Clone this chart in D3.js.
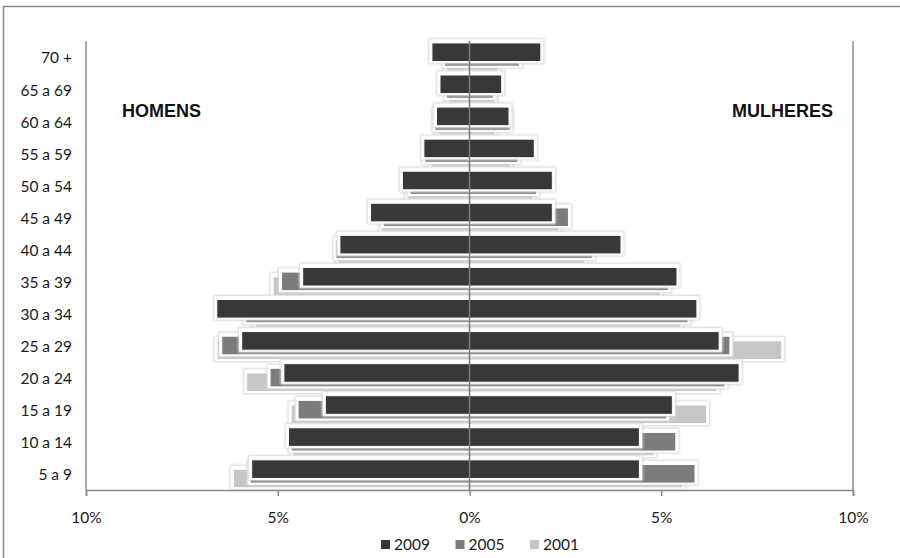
<!DOCTYPE html>
<html><head><meta charset="utf-8">
<script src="https://cdn.jsdelivr.net/npm/d3@7"></script>
<style>
body{margin:0;background:#fff;}
svg{display:block;font-family:Lato, "Open Sans", sans-serif;}
</style></head>
<body><svg id="c" width="900" height="558"></svg>
<script>
const categories = ["5 a 9","10 a 14","15 a 19","20 a 24","25 a 29","30 a 34","35 a 39","40 a 44","45 a 49","50 a 54","55 a 59","60 a 64","65 a 69","70 +"];
const years = ["2009","2005","2001"];
const men2009 = [5.68,4.72,3.76,4.84,5.94,6.59,4.35,3.38,2.58,1.75,1.19,0.86,0.77,0.98];
const men2005 = [5.72,4.65,4.47,5.20,6.46,5.83,4.90,3.48,2.25,1.55,1.16,0.90,0.60,0.65];
const men2001 = [6.16,4.60,4.65,5.81,6.58,5.57,5.12,3.43,2.30,1.61,1.00,0.80,0.55,0.60];
const women2009 = [4.43,4.43,5.29,7.03,6.51,5.93,5.41,3.95,2.16,2.16,1.69,1.03,0.84,1.86];
const women2005 = [5.88,5.38,5.14,6.66,6.79,5.70,5.18,3.20,2.58,1.75,1.26,1.06,0.62,1.30];
const women2001 = [5.55,4.81,6.18,6.45,8.14,5.50,4.97,3.00,2.32,1.65,1.06,0.66,0.66,0.74];
const xTicks = [-10,-5,0,5,10];
const colors = {"2009":"#383838","2005":"#7b7b7b","2001":"#c6c6c6"};

const svg = d3.select("#c");
const L = 86, R = 853, T = 41, B = 490;
const x = d3.scaleLinear().domain([-10,10]).range([L,R]);
const y = d3.scaleBand().domain(categories.slice().reverse()).range([T,B]).padding(0);
const off = d3.scalePoint().domain(years).range([0.06*y.bandwidth(), 0.35*y.bandwidth()]);
const bh = y.bandwidth()*0.58;

// defs: glow halo (shifted upward so strips below stay visible)
const defs = svg.append("defs");
const f = defs.append("filter").attr("id","halo").attr("x","-10%").attr("y","-60%").attr("width","120%").attr("height","220%");
f.append("feMorphology").attr("in","SourceAlpha").attr("operator","dilate").attr("radius",2.5).attr("result","d0");
f.append("feOffset").attr("in","d0").attr("dx",0).attr("dy",-1.5).attr("result","d1");
f.append("feGaussianBlur").attr("in","d1").attr("stdDeviation",0.9).attr("result","b1");
f.append("feFlood").attr("flood-color","#d6d6d6").attr("result","c1");
f.append("feComposite").attr("in","c1").attr("in2","b1").attr("operator","in").attr("result","g1");
f.append("feMorphology").attr("in","SourceAlpha").attr("operator","dilate").attr("radius",1.5).attr("result","d2a");
f.append("feOffset").attr("in","d2a").attr("dx",0).attr("dy",-1).attr("result","d2");
f.append("feFlood").attr("flood-color","#ffffff").attr("result","c2");
f.append("feComposite").attr("in","c2").attr("in2","d2").attr("operator","in").attr("result","g2");
const m = f.append("feMerge");
m.append("feMergeNode").attr("in","g1");
m.append("feMergeNode").attr("in","g2");
m.append("feMergeNode").attr("in","SourceGraphic");

// outer frame
svg.append("rect").attr("x",3.5).attr("y",6.5).attr("width",920).attr("height",600)
  .attr("fill","none").attr("stroke","#8a8a8a").attr("stroke-width",1.5);

// series data
const series = {
  "2009": {men: men2009, women: women2009},
  "2005": {men: men2005, women: women2005},
  "2001": {men: men2001, women: women2001}
};
const order = ["2001","2005","2009"];
order.forEach(yr => {
  const g = svg.append("g").attr("class","s"+yr);
  const rows = categories.map((c,i)=>({c, m: series[yr].men[i], w: series[yr].women[i]}));
  const gg = g.selectAll("g").data(rows).join("g").attr("filter","url(#halo)");
  gg.append("rect")
    .attr("x", d=>x(-d.m)).attr("width", d=>x(0)-x(-d.m))
    .attr("y", d=>y(d.c)+off(yr)).attr("height", bh)
    .attr("fill", colors[yr]).attr("stroke","#fff").attr("stroke-width",1);
  gg.append("rect")
    .attr("x", x(0)).attr("width", d=>x(d.w)-x(0))
    .attr("y", d=>y(d.c)+off(yr)).attr("height", bh)
    .attr("fill", colors[yr]).attr("stroke","#fff").attr("stroke-width",1);
});

// center line
svg.append("line").attr("x1",x(0)).attr("x2",x(0)).attr("y1",T).attr("y2",B)
  .attr("stroke","#7a7a7a").attr("stroke-width",1.5);

// left & right plot lines
svg.append("line").attr("x1",L).attr("x2",L).attr("y1",T).attr("y2",B).attr("stroke","#8a8a8a").attr("stroke-width",1.5);
svg.append("line").attr("x1",R).attr("x2",R).attr("y1",T).attr("y2",B).attr("stroke","#8a8a8a").attr("stroke-width",1.5);

// x axis
const xa = svg.append("g").attr("transform",`translate(0,${B})`)
  .call(d3.axisBottom(x).tickValues(xTicks).tickSize(6).tickPadding(16).tickFormat(d=>Math.abs(d)+"%"));
xa.select(".domain").attr("stroke","#8a8a8a").attr("stroke-width",1.5);
xa.selectAll(".tick line").attr("stroke","#8a8a8a").attr("stroke-width",1.5);
xa.selectAll("text").attr("font-size",15.5).attr("fill","#1a1a1a").attr("font-family","Lato, 'Open Sans', sans-serif");

// y labels
svg.append("g").selectAll("text").data(categories).join("text")
  .attr("x",72).attr("y",d=>y(d)+y.bandwidth()/2+1).attr("dy","0.35em")
  .attr("text-anchor","end").attr("font-size",15.5).attr("fill","#1a1a1a").text(d=>d);

// side titles
svg.append("text").attr("x",122).attr("y",117).attr("font-family","'Liberation Sans', Arial, sans-serif")
  .attr("font-weight","bold").attr("font-size",18).attr("fill","#111").text("HOMENS");
svg.append("text").attr("x",833).attr("y",117).attr("text-anchor","end").attr("font-family","'Liberation Sans', Arial, sans-serif")
  .attr("font-weight","bold").attr("font-size",18).attr("fill","#111").text("MULHERES");

// legend
const lx = d3.scalePoint().domain(years).range([381,530]);
const lg = svg.append("g").selectAll("g").data(years).join("g").attr("transform",d=>`translate(${lx(d)},545)`);
lg.append("rect").attr("x",0).attr("y",-5).attr("width",9).attr("height",9).attr("fill",d=>colors[d]);
lg.append("text").attr("x",13).attr("y",0).attr("dy","0.35em").attr("font-size",15.5).attr("fill","#1a1a1a").text(d=>d);
</script></body></html>
